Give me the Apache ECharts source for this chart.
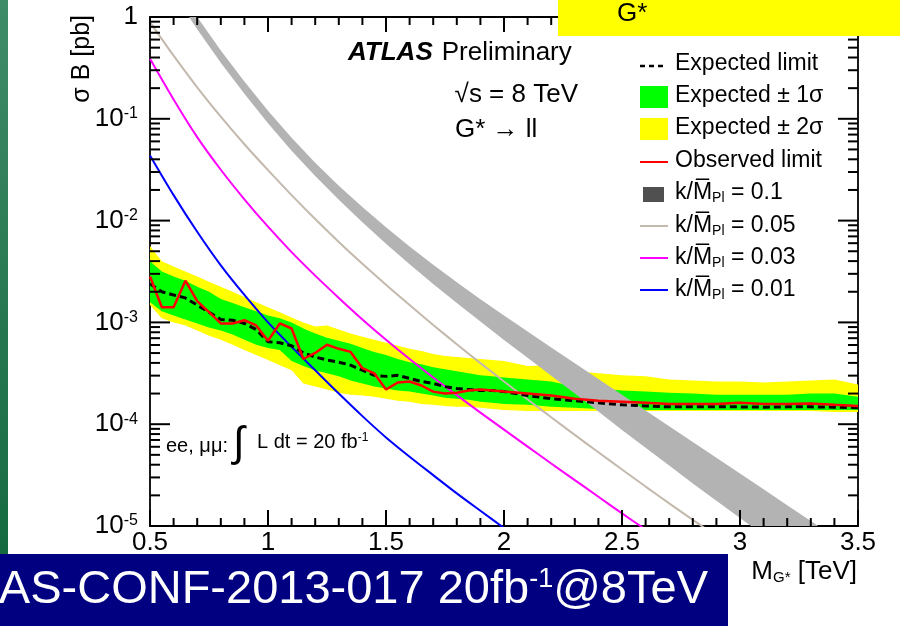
<!DOCTYPE html>
<html>
<head>
<meta charset="utf-8">
<script src="https://cdn.jsdelivr.net/npm/echarts@6/dist/echarts.min.js"></script>
<style>
html,body{margin:0;padding:0;background:#fff;}
#c{width:900px;height:626px;}
</style>
</head>
<body>
<div id="c"></div>
<script>
// ---- data ----
const masses = [0.5,0.55,0.6,0.65,0.7,0.75,0.8,0.85,0.9,0.95,1.0,1.05,1.1,1.15,1.2,1.25,1.3,1.35,1.4,1.45,1.5,1.55,1.6,1.65,1.7,1.75,1.8,1.85,1.9,1.95,2.0,2.1,2.2,2.3,2.4,2.5,2.6,2.7,2.8,2.9,3.0,3.1,3.2,3.3,3.4,3.5];
const expected = [2.40e-3,2.00e-3,1.86e-3,1.74e-3,1.48e-3,1.26e-3,1.07e-3,1.05e-3,9.77e-4,8.51e-4,
 6.46e-4,6.31e-4,5.89e-4,5.01e-4,4.57e-4,4.27e-4,4.07e-4,3.80e-4,3.39e-4,3.02e-4,
 2.95e-4,3.02e-4,2.82e-4,2.63e-4,2.51e-4,2.34e-4,2.24e-4,2.19e-4,2.14e-4,2.14e-4,
 2.09e-4,1.91e-4,1.78e-4,1.70e-4,1.62e-4,1.55e-4,1.51e-4,1.48e-4,1.48e-4,1.48e-4,
 1.48e-4,1.47e-4,1.48e-4,1.48e-4,1.47e-4,1.45e-4];
const observed = [2.82e-3,1.41e-3,1.41e-3,2.57e-3,1.62e-3,1.26e-3,9.77e-4,9.77e-4,1.05e-3,9.33e-4,
 6.61e-4,9.77e-4,8.71e-4,4.37e-4,5.01e-4,6.03e-4,5.50e-4,5.13e-4,3.55e-4,3.16e-4,
 2.19e-4,2.57e-4,2.63e-4,2.40e-4,2.09e-4,2.00e-4,2.04e-4,2.14e-4,2.19e-4,2.14e-4,
 2.09e-4,2.00e-4,1.91e-4,1.78e-4,1.70e-4,1.66e-4,1.62e-4,1.58e-4,1.58e-4,1.58e-4,
 1.62e-4,1.58e-4,1.58e-4,1.60e-4,1.55e-4,1.51e-4];
const sigma1Up = [3.98e-3,3.16e-3,2.82e-3,2.57e-3,2.24e-3,2.00e-3,1.70e-3,1.55e-3,1.41e-3,1.29e-3,
 1.17e-3,1.10e-3,1.00e-3,8.71e-4,7.76e-4,7.08e-4,6.61e-4,6.17e-4,5.62e-4,5.13e-4,
 4.79e-4,4.37e-4,4.07e-4,3.89e-4,3.63e-4,3.47e-4,3.31e-4,3.16e-4,3.02e-4,2.95e-4,
 2.88e-4,2.75e-4,2.63e-4,2.34e-4,2.24e-4,2.14e-4,2.09e-4,2.04e-4,2.00e-4,1.95e-4,
 1.95e-4,1.95e-4,1.95e-4,2.00e-4,2.00e-4,1.86e-4];
const sigma1Down = [1.58e-3,1.29e-3,1.17e-3,1.07e-3,9.77e-4,8.91e-4,8.32e-4,7.59e-4,6.76e-4,6.03e-4,
 5.62e-4,5.37e-4,4.17e-4,3.72e-4,3.39e-4,3.16e-4,2.95e-4,2.69e-4,2.51e-4,2.34e-4,
 2.24e-4,2.14e-4,2.09e-4,2.00e-4,1.91e-4,1.82e-4,1.78e-4,1.74e-4,1.66e-4,1.62e-4,
 1.58e-4,1.55e-4,1.48e-4,1.45e-4,1.41e-4,1.41e-4,1.38e-4,1.38e-4,1.38e-4,1.38e-4,
 1.38e-4,1.38e-4,1.38e-4,1.38e-4,1.38e-4,1.38e-4];
const sigma2Up = [5.62e-3,3.98e-3,3.55e-3,3.16e-3,2.82e-3,2.51e-3,2.24e-3,2.00e-3,1.78e-3,1.58e-3,
 1.41e-3,1.26e-3,1.12e-3,1.00e-3,9.12e-4,9.33e-4,8.51e-4,7.76e-4,7.24e-4,6.76e-4,
 6.31e-4,5.89e-4,5.50e-4,5.25e-4,4.90e-4,4.68e-4,4.57e-4,4.47e-4,4.37e-4,4.27e-4,
 4.17e-4,3.72e-4,3.80e-4,3.31e-4,3.16e-4,3.02e-4,2.95e-4,2.75e-4,2.69e-4,2.63e-4,
 2.63e-4,2.57e-4,2.63e-4,2.69e-4,2.75e-4,2.45e-4];
const sigma2Down = [1.48e-3,1.10e-3,1.00e-3,9.33e-4,8.32e-4,7.41e-4,6.76e-4,6.03e-4,5.37e-4,4.79e-4,
 4.27e-4,3.80e-4,3.39e-4,2.51e-4,2.34e-4,2.19e-4,2.04e-4,1.95e-4,1.91e-4,1.86e-4,
 1.78e-4,1.70e-4,1.66e-4,1.58e-4,1.55e-4,1.51e-4,1.48e-4,1.48e-4,1.45e-4,1.41e-4,
 1.38e-4,1.35e-4,1.35e-4,1.35e-4,1.35e-4,1.35e-4,1.35e-4,1.35e-4,1.35e-4,1.35e-4,
 1.35e-4,1.35e-4,1.35e-4,1.35e-4,1.32e-4,1.32e-4];

const theoryMass = [0.5,0.6,0.7,0.8,0.9,1.0,1.1,1.2,1.3,1.4,1.5,1.6,1.7,1.8,1.9,2.0,2.1,2.2,2.3,2.4,2.5,2.6,2.7,2.8,2.9,3.0,3.1,3.2,3.3,3.4,3.5];
const k001 = [4.37e-2,1.78e-2,7.76e-3,3.63e-3,1.86e-3,1.00e-3,5.75e-4,3.39e-4,2.00e-4,1.20e-4,7.41e-5,4.79e-5,3.16e-5,2.09e-5,1.41e-5,9.55e-6,6.46e-6];
const k003 = [3.89e-1,1.55e-1,6.61e-2,3.16e-2,1.62e-2,8.71e-3,4.90e-3,2.88e-3,1.74e-3,1.07e-3,6.76e-4,4.37e-4,2.88e-4,1.93e-4,1.30e-4,8.85e-5,6.03e-5,4.11e-5,2.82e-5,1.94e-5,1.33e-5,9.23e-6,6.38e-6];
const k005 = [8.91e-1,4.17e-1,2.04e-1,1.05e-1,5.62e-2,3.13e-2,1.78e-2,1.035e-2,6.17e-3,3.76e-3,2.34e-3,1.48e-3,9.44e-4,6.10e-4,3.98e-4,2.63e-4,1.75e-4,1.17e-4,7.85e-5,5.30e-5,3.59e-5,2.44e-5,1.67e-5,1.15e-5,7.94e-6];
const k01Mass = [0.6,0.7,0.8,0.9,1.0,1.1,1.2,1.3,1.4,1.5,1.6,1.7,1.8,1.9,2.0,2.1,2.2,2.3,2.4,2.5,2.6,2.7,2.8,2.9,3.0,3.1,3.2,3.3,3.4,3.5];
const k01Up = [2.24,1.00,4.68e-1,2.32e-1,1.20e-1,6.50e-2,3.70e-2,2.20e-2,1.36e-2,8.61e-3,5.58e-3,3.69e-3,2.48e-3,1.69e-3,1.17e-3,8.13e-4,5.68e-4,3.97e-4,2.78e-4,1.95e-4,1.36e-4,9.53e-5,6.67e-5,4.67e-5,3.27e-5,2.29e-5,1.60e-5,1.12e-5,7.83e-6,5.50e-6];
const k01Down = [1.70,7.59e-1,3.55e-1,1.76e-1,9.06e-2,4.85e-2,2.74e-2,1.60e-2,9.62e-3,5.93e-3,3.72e-3,2.38e-3,1.55e-3,1.02e-3,6.73e-4,4.49e-4,2.99e-4,2.00e-4,1.33e-4,8.79e-5,5.87e-5,3.93e-5,2.62e-5,1.77e-5,1.20e-5,8.11e-6,5.48e-6,3.71e-6,2.51e-6,1.70e-6];

// axis tick positions
const xMajorTicks = [0.5,1,1.5,2,2.5,3,3.5];
const xMinorTicks = [0.6,0.7,0.8,0.9,1.1,1.2,1.3,1.4,1.6,1.7,1.8,1.9,2.1,2.2,2.3,2.4,2.6,2.7,2.8,2.9,3.1,3.2,3.3,3.4];
const yMajorTicks = [1e-5,1e-4,1e-3,1e-2,1e-1,1];
const yDecades = [1e-5,1e-4,1e-3,1e-2,1e-1];
const yMinorMantissa = [2,3,4,5,6,7,8,9];

// ---- helpers ----
const FONT = '"Liberation Sans", Arial, Helvetica, sans-serif';
function pairs(xs, ys){ const out=[]; for(let i=0;i<ys.length;i++) out.push([xs[i], ys[i]]); return out; }

function band(name, xs, up, down, color, z){
  return {
    type:'custom', name:name, z:z, clip:true, silent:true,
    data:[[xs[0], up[0]]], encode:{x:0,y:1},
    renderItem:function(params, api){
      const pts=[];
      for(let i=0;i<xs.length;i++) pts.push(api.coord([xs[i], up[i]]));
      for(let i=xs.length-1;i>=0;i--) pts.push(api.coord([xs[i], down[i]]));
      const cs = params.coordSys;
      return {type:'group', children:[{type:'polygon', shape:{points:pts}, style:{fill:color, stroke:null}}],
        clipPath:{type:'rect', shape:{x:cs.x, y:cs.y, width:cs.width, height:cs.height}}};
    }
  };
}

const yMinorTicks = [];
yDecades.forEach(d => yMinorMantissa.forEach(m => yMinorTicks.push(m*d)));

const chart = echarts.init(document.getElementById('c'));
const axisLineStyle = {color:'#000', width:1.8};

const option = {
  backgroundColor:'#fff',
  animation:false,
  grid:{left:150, right:42, top:17, bottom:100},
  xAxis:[
    {type:'value', min:0.5, max:3.5, interval:0.5, position:'bottom',
     axisLine:{show:true, onZero:false, lineStyle:axisLineStyle},
     axisTick:{show:false}, minorTick:{show:false},
     splitLine:{show:false}, minorSplitLine:{show:false},
     axisLabel:{color:'#000', fontSize:26, fontFamily:FONT, margin:4,
       formatter:function(v){ return String(v); }}},
    {type:'value', min:0.5, max:3.5, interval:0.5, position:'top',
     axisLine:{show:true, onZero:false, lineStyle:axisLineStyle},
     axisTick:{show:false}, minorTick:{show:false},
     splitLine:{show:false}, axisLabel:{show:false}}
  ],
  yAxis:[
    {type:'log', logBase:10, min:1e-5, max:1, position:'left',
     axisLine:{show:true, onZero:false, lineStyle:axisLineStyle},
     axisTick:{show:false}, minorTick:{show:false},
     splitLine:{show:false},
     axisLabel:{color:'#000', fontFamily:FONT, margin:12,
       formatter:function(v){ const e=Math.round(Math.log10(v)); return e===0 ? '{n|1}' : '{n|10}{s|'+e+'}'; },
       rich:{n:{fontSize:26, fontFamily:FONT, color:'#000', lineHeight:26, verticalAlign:'bottom'},
             s:{fontSize:16, fontFamily:FONT, color:'#000', lineHeight:16, verticalAlign:'top'}},
       lineHeight:34}},
    {type:'log', logBase:10, min:1e-5, max:1, position:'right',
     axisLine:{show:true, onZero:false, lineStyle:axisLineStyle},
     axisTick:{show:false}, minorTick:{show:false},
     splitLine:{show:false}, axisLabel:{show:false}}
  ],
  series:[
    band('Expected ± 2σ', masses, sigma2Up, sigma2Down, '#ffff00', 1),
    band('Expected ± 1σ', masses, sigma1Up, sigma1Down, '#00ff00', 2),
    band('k/MPl = 0.1', k01Mass, k01Up, k01Down, '#b3b3b3', 3),
    {type:'line', name:'k/MPl = 0.05', data:pairs(theoryMass, k005), showSymbol:false, smooth:0.3, clip:true, z:4,
     lineStyle:{color:'#c3b9ad', width:2}},
    {type:'line', name:'k/MPl = 0.03', data:pairs(theoryMass, k003), showSymbol:false, smooth:0.3, clip:true, z:4,
     lineStyle:{color:'#ff00ff', width:2}},
    {type:'line', name:'k/MPl = 0.01', data:pairs(theoryMass, k001), showSymbol:false, smooth:0.3, clip:true, z:4,
     lineStyle:{color:'#0000ff', width:2}},
    {type:'line', name:'Expected limit', data:pairs(masses, expected), showSymbol:false, clip:true, z:5,
     lineStyle:{color:'#000', width:3, type:[7,4]}},
    {type:'line', name:'Observed limit', data:pairs(masses, observed), showSymbol:false, clip:true, z:6,
     lineStyle:{color:'#ff0000', width:2.5}}
  ],
  graphic:[
    // left green strip
    {type:'rect', left:0, top:0, shape:{width:8, height:555}, z:100,
     style:{fill:new echarts.graphic.LinearGradient(0,0,0,1,[{offset:0,color:'#3f8c69'},{offset:1,color:'#166a40'}])}},
    // top-right yellow box
    {type:'rect', x:558, y:0, shape:{width:342, height:36}, z:100, style:{fill:'#ffff00'}},
    {type:'text', x:617, y:14, z:101, style:{text:'G*', font:'26px '+FONT, fill:'#000', textVerticalAlign:'middle'}},
    // bottom banner
    {type:'rect', x:0, y:554, shape:{width:728, height:72}, z:100, style:{fill:'#000080'}},
    {type:'text', x:708, y:590, z:101, style:{
      text:'{t|AS-CONF-2013-017 20fb}{s|-1}{t|@8TeV}', textAlign:'right', textVerticalAlign:'middle',
      rich:{t:{fontSize:47, fontFamily:FONT, fill:'#fff', lineHeight:48, verticalAlign:'bottom'},
            s:{fontSize:27, fontFamily:FONT, fill:'#fff', lineHeight:27, verticalAlign:'top'}},
      lineHeight:58}},
    // axis titles
    {type:'text', x:82, y:15, rotation:Math.PI/2, z:50, style:{text:'σ B [pb]', font:'25px '+FONT, fill:'#000', textAlign:'right', textVerticalAlign:'middle'}},
    {type:'text', x:857, y:572, z:50, style:{
      text:'{m|M}{g|G*}{m| [TeV]}', textAlign:'right', textVerticalAlign:'middle',
      rich:{m:{fontSize:26, fontFamily:FONT, fill:'#000', lineHeight:26, verticalAlign:'top'},
            g:{fontSize:15, fontFamily:FONT, fill:'#000', lineHeight:15, verticalAlign:'bottom'}},
      lineHeight:34}},
    // ATLAS label
    {type:'text', x:348, y:53, z:50, style:{
      text:'{a|ATLAS}{p|Preliminary}', textVerticalAlign:'middle',
      rich:{a:{fontSize:26, fontFamily:FONT, fontWeight:'bold', fontStyle:'italic', fill:'#000', padding:[0,9,0,0]},
            p:{fontSize:26, fontFamily:FONT, fill:'#000'}}}},
    {type:'text', x:578, y:95, z:50, style:{text:'√s = 8 TeV', font:'26px '+FONT, fill:'#000', textAlign:'right', textVerticalAlign:'middle'}},
    {type:'text', x:455, y:130, z:50, style:{text:'G* → ll', font:'26px '+FONT, fill:'#000', textVerticalAlign:'middle'}},
    // luminosity label
    {type:'text', x:166, y:446, z:50, style:{text:'ee, μμ:', font:'20px '+FONT, fill:'#000', textVerticalAlign:'middle'}},
    {type:'text', x:233, y:444, z:50, style:{text:'∫', font:'42px '+FONT, fill:'#000', textVerticalAlign:'middle'}},
    {type:'text', x:257, y:442, z:50, style:{
      text:'{t|L dt = 20 fb}{s|-1}', textVerticalAlign:'middle',
      rich:{t:{fontSize:20, fontFamily:FONT, fill:'#000', lineHeight:20, verticalAlign:'bottom'},
            s:{fontSize:12, fontFamily:FONT, fill:'#000', lineHeight:12, verticalAlign:'top'}},
      lineHeight:28}},
    // legend
    {type:'line', shape:{x1:640, y1:66, x2:665, y2:66}, z:50, style:{stroke:'#000', lineWidth:2.5, lineDash:[5,4]}},
    {type:'text', x:675, y:64, z:50, style:{text:'Expected limit', font:'23px '+FONT, fill:'#000', textVerticalAlign:'middle'}},
    {type:'rect', shape:{x:640, y:86, width:28, height:22}, z:50, style:{fill:'#00ff00'}},
    {type:'text', x:675, y:96, z:50, style:{text:'Expected ± 1σ', font:'23px '+FONT, fill:'#000', textVerticalAlign:'middle'}},
    {type:'rect', shape:{x:640, y:118, width:28, height:22}, z:50, style:{fill:'#ffff00'}},
    {type:'text', x:675, y:128, z:50, style:{text:'Expected ± 2σ', font:'23px '+FONT, fill:'#000', textVerticalAlign:'middle'}},
    {type:'line', shape:{x1:640, y1:162, x2:668, y2:162}, z:50, style:{stroke:'#ff0000', lineWidth:2}},
    {type:'text', x:675, y:161, z:50, style:{text:'Observed limit', font:'23px '+FONT, fill:'#000', textVerticalAlign:'middle'}},
    {type:'rect', shape:{x:643, y:187, width:21, height:15}, z:50, style:{fill:'#505050'}},
    {type:'line', shape:{x1:640, y1:226, x2:668, y2:226}, z:50, style:{stroke:'#c3b9ad', lineWidth:2}},
    {type:'line', shape:{x1:640, y1:258, x2:668, y2:258}, z:50, style:{stroke:'#ff00ff', lineWidth:2}},
    {type:'line', shape:{x1:640, y1:290, x2:668, y2:290}, z:50, style:{stroke:'#0000ff', lineWidth:2}}
  ]
};

const kLabels = [['0.1',193],['0.05',226],['0.03',258],['0.01',290]];
kLabels.forEach(function(k){
  option.graphic.push({type:'text', x:675, y:k[1], z:50, style:{
    text:'{n|k/M\u0305}{s|Pl}{n| = '+k[0]+'}', textVerticalAlign:'middle',
    rich:{n:{fontSize:23, fontFamily:FONT, fill:'#000', lineHeight:24, verticalAlign:'top'},
          s:{fontSize:14, fontFamily:FONT, fill:'#000', lineHeight:14, verticalAlign:'bottom'}},
    lineHeight:32}});
});

chart.setOption(option);

// ---- axis ticks, placed with the axes' own scales (convertToPixel) ----
const L = chart.convertToPixel({xAxisIndex:0}, 0.5);
const R = chart.convertToPixel({xAxisIndex:0}, 3.5);
const B = chart.convertToPixel({yAxisIndex:0}, 1e-5);
const T = chart.convertToPixel({yAxisIndex:0}, 1);
const tickEls = [];
function tickRect(x, y, w, h){
  tickEls.push({type:'rect', z:60, shape:{x:x, y:y, width:w, height:h}, style:{fill:'#000'}});
}
const TW = 2;
xMajorTicks.forEach(function(v){ const px = chart.convertToPixel({xAxisIndex:0}, v); tickRect(px-TW/2, B-16, TW, 16); tickRect(px-TW/2, T, TW, 15); });
xMinorTicks.forEach(function(v){ const px = chart.convertToPixel({xAxisIndex:0}, v); tickRect(px-TW/2, B-8, TW, 8); tickRect(px-TW/2, T, TW, 8); });
yMajorTicks.forEach(function(v){ const py = chart.convertToPixel({yAxisIndex:0}, v); tickRect(L, py-TW/2, 20, TW); tickRect(R-20, py-TW/2, 20, TW); });
yMinorTicks.forEach(function(v){ const py = chart.convertToPixel({yAxisIndex:0}, v); tickRect(L, py-TW/2, 10, TW); tickRect(R-10, py-TW/2, 10, TW); });
chart.setOption({graphic: option.graphic.concat(tickEls)});
</script>
</body>
</html>
